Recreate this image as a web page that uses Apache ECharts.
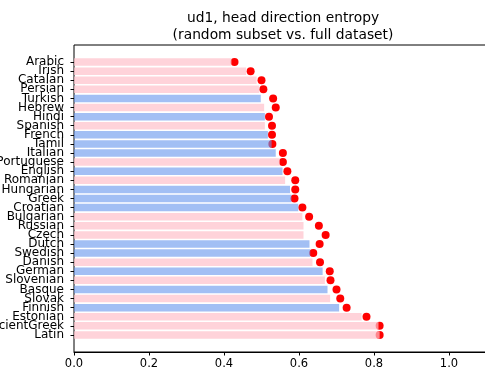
<!DOCTYPE html>
<html><head><meta charset="utf-8">
<script src="https://cdn.jsdelivr.net/npm/echarts@6/dist/echarts.min.js"></script>
<style>html,body{margin:0;padding:0;background:#fff}#c{width:485px;height:370px}</style>
</head><body><div id="c"></div>
<script>
const categories = ["Arabic","Irish","Catalan","Persian","Turkish","Hebrew","Hindi","Spanish","French","Tamil","Italian","Portuguese","English","Romanian","Hungarian","Greek","Croatian","Bulgarian","Russian","Czech","Dutch","Swedish","Danish","German","Slovenian","Basque","Slovak","Finnish","Estonian","AncientGreek","Latin"];
const subsetValues = [0.420,0.459,0.487,0.494,0.498,0.507,0.509,0.509,0.517,0.527,0.538,0.549,0.556,0.563,0.576,0.580,0.598,0.609,0.612,0.612,0.628,0.630,0.636,0.663,0.669,0.676,0.683,0.707,0.767,0.812,0.815];
const fullValues = [0.428,0.471,0.500,0.505,0.531,0.538,0.520,0.528,0.528,0.529,0.557,0.557,0.569,0.590,0.590,0.588,0.609,0.627,0.653,0.671,0.655,0.638,0.656,0.682,0.684,0.700,0.710,0.727,0.780,0.815,0.815];
const groups = ["p","p","p","p","b","p","b","p","b","b","b","p","b","p","b","b","b","p","p","p","b","b","p","b","p","b","p","b","p","p","p"];
const xTicks = [0, 0.2, 0.4, 0.6, 0.8, 1.0];

const colorMap = {p: 'rgba(255,192,203,0.7)', b: 'rgba(100,149,237,0.6)'};
const chart = echarts.init(document.getElementById('c'), null, {renderer: 'canvas'});
const font = 'DejaVu Sans';
chart.setOption({
  animation: false,
  title: {
    text: 'ud1, head direction entropy\n(random subset vs. full dataset)',
    left: 278, top: 5, textAlign: 'center',
    textStyle: {fontFamily: font, fontSize: 13.8, fontWeight: 'normal', color: '#000', lineHeight: 17}
  },
  grid: [
    {left: 74, top: 45, width: 412.5, bottom: 18, show: true, borderColor: '#000', borderWidth: 1, backgroundColor: 'transparent', containLabel: false, outerBoundsMode: 'none'},
    {left: 74, top: 57.5, width: 412.5, height: 282, containLabel: false, outerBoundsMode: 'none'}
  ],
  xAxis: [
    {gridIndex: 0, type: 'value', min: 0, max: 1.1, interval: 0.2,
     axisLine: {show: true, lineStyle: {color: '#000', width: 1}},
     axisTick: {show: true, length: 3.5, lineStyle: {color: '#000'}},
     axisLabel: {fontFamily: font, fontSize: 11.5, color: '#000', margin: 6, showMaxLabel: false,
       formatter: v => xTicks.some(t => Math.abs(t - v) < 1e-9) ? v.toFixed(1) : ''},
     splitLine: {show: false}},
    {gridIndex: 1, type: 'value', min: 0, max: 1.1, show: false, splitLine: {show: false}}
  ],
  yAxis: [
    {gridIndex: 0, type: 'value', show: false, splitLine: {show: false}},
    {gridIndex: 1, type: 'category', data: categories, inverse: true,
     axisLine: {show: false},
     axisTick: {show: true, length: 3.5, alignWithLabel: true, lineStyle: {color: '#000'}},
     axisLabel: {fontFamily: font, fontSize: 12, color: '#000', margin: 10, interval: 0}}
  ],
  series: [
    {type: 'scatter', xAxisIndex: 1, yAxisIndex: 1, symbolSize: 8, z: 2,
     itemStyle: {color: '#ff0000', opacity: 1},
     data: fullValues.map((v, i) => [v, i])},
    {type: 'bar', xAxisIndex: 1, yAxisIndex: 1, barWidth: 7.5, z: 3,
     data: subsetValues.map((v, i) => ({value: v, itemStyle: {color: colorMap[groups[i]]}}))}
  ]
});
</script></body></html>
